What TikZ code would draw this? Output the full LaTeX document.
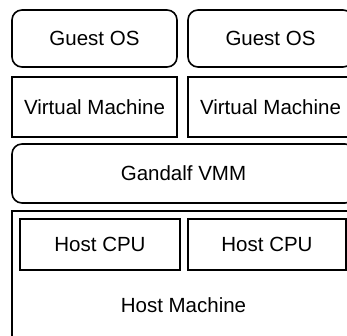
\documentclass[tikz,border=0pt]{standalone}
\usepackage{fontspec}
\setmainfont{Liberation Sans}
\begin{document}
\begin{tikzpicture}[x=1pt,y=-1pt,
  layer/.style={draw=black,line width=1.6pt,inner sep=0pt,font=\fontsize{20.5}{24}\selectfont},
  soft/.style={layer,rounded corners=10pt}]
\useasboundingbox (0,0) rectangle (347,336);
\clip (0,0) rectangle (347,336);
% guest operating systems
\node[soft,minimum width=165pt,minimum height=57pt] (gos1) at (94.5,38.5) {Guest OS};
\node[soft,minimum width=165pt,minimum height=57pt] (gos2) at (270.5,38.5) {Guest OS};
% virtual machines
\node[layer,minimum width=165pt,minimum height=60pt] (vm1) at (94.5,107) {Virtual Machine};
\node[layer,minimum width=165pt,minimum height=60pt] (vm2) at (270.5,107) {Virtual Machine};
% monitor layer
\node[soft,minimum width=343pt,minimum height=59pt] (vmm) at (183.5,173.5) {Gandalf VMM};
% physical host with its processors
\node[layer,minimum width=343pt,minimum height=188pt] (host) at (183.5,305) {Host Machine};
\node[layer,minimum width=160pt,minimum height=51pt] (cpu1) at (100,244.5) {Host CPU};
\node[layer,minimum width=158pt,minimum height=51pt] (cpu2) at (267,244.5) {Host CPU};
\end{tikzpicture}
\end{document}
